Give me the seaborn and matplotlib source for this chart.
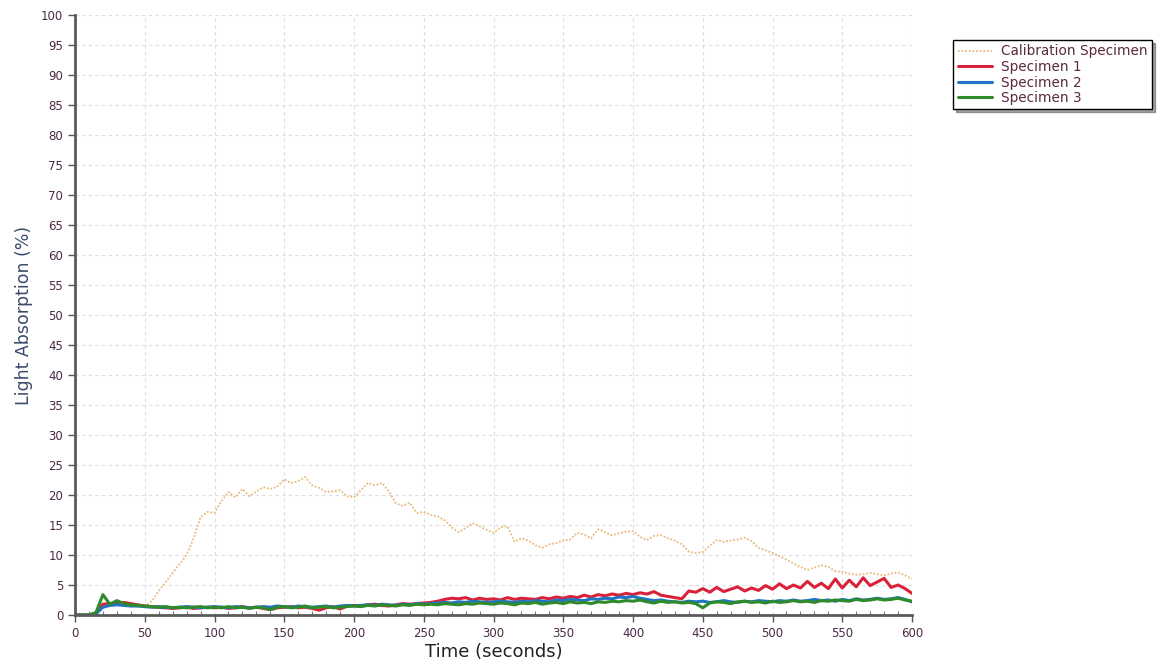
import numpy as np
import pandas as pd
import matplotlib
matplotlib.use("Agg")
import matplotlib.pyplot as plt
import seaborn as sns
from matplotlib.ticker import MultipleLocator

# time axis, one reading every 5 seconds
time_s = np.arange(0, 601, 5)

calibration = [
    0, 0, 0, 0.5, 1.5, 1.8, 1.7, 1.6, 1.5, 1.4,
    1.5, 2.3, 4.0, 5.5, 7.0, 8.5, 10.0, 12.8, 16.3, 17.2,
    17.0, 19.0, 20.5, 19.6, 21.0, 19.8, 20.6, 21.3, 21.0, 21.4,
    22.6, 22.0, 22.3, 23.0, 21.6, 21.2, 20.5, 20.6, 20.8, 19.8,
    19.6, 20.8, 22.0, 21.6, 22.0, 20.6, 18.6, 18.2, 18.7, 17.0,
    17.2, 16.7, 16.4, 15.8, 14.6, 13.8, 14.5, 15.3, 14.8, 14.2,
    13.7, 14.6, 14.8, 12.2, 12.8, 12.4, 11.6, 11.2, 11.8, 12.0,
    12.4, 12.6, 13.7, 13.4, 12.8, 14.3, 13.8, 13.3, 13.6, 13.9,
    14.0, 13.0, 12.5, 13.2, 13.3, 12.8, 12.4, 11.8, 10.6, 10.3,
    10.5, 11.5, 12.5, 12.2, 12.4, 12.6, 12.9, 12.3, 11.2, 10.8,
    10.3, 9.8, 9.2, 8.6, 8.0, 7.5, 7.9, 8.3, 8.0, 7.3,
    7.2, 6.9, 6.7, 6.8, 7.0, 6.8, 6.6, 6.9, 7.1, 6.6,
    6.0,
]

specimen_1 = [
    0, 0, 0, 0.3, 1.8, 1.9, 2.0, 2.1, 1.9, 1.7,
    1.5, 1.4, 1.3, 1.2, 1.1, 1.2, 1.3, 1.1, 1.2, 1.3,
    1.2, 1.3, 1.1, 1.2, 1.4, 1.2, 1.3, 1.1, 0.9, 1.2,
    1.3, 1.4, 1.2, 1.3, 1.1, 0.8, 1.2, 1.4, 1.0, 1.5,
    1.6, 1.5, 1.7, 1.8, 1.6, 1.5, 1.7, 1.9, 1.8, 1.9,
    2.0, 2.1, 2.3, 2.6, 2.8, 2.7, 2.9, 2.5, 2.8, 2.6,
    2.7, 2.5, 2.9, 2.6, 2.8, 2.7, 2.6, 2.9, 2.7, 3.0,
    2.8, 3.1, 2.9, 3.3, 3.0, 3.4, 3.2, 3.5, 3.3, 3.6,
    3.4, 3.7, 3.5, 3.9, 3.3, 3.1, 2.9, 2.7, 4.0, 3.8,
    4.4, 3.8, 4.6, 3.9, 4.3, 4.7, 4.0, 4.5, 4.1, 4.9,
    4.3, 5.2, 4.4, 5.0, 4.5, 5.6, 4.6, 5.3, 4.4, 6.0,
    4.5, 5.8, 4.7, 6.2, 4.9, 5.5, 6.1, 4.6, 5.0, 4.4,
    3.6,
]

specimen_2 = [
    0, 0, 0, 0.2, 1.3, 1.6, 1.7, 1.6, 1.5, 1.5,
    1.4, 1.3, 1.4, 1.3, 1.2, 1.3, 1.4, 1.3, 1.2, 1.3,
    1.4, 1.3, 1.2, 1.4, 1.3, 1.2, 1.3, 1.4, 1.3, 1.5,
    1.4, 1.3, 1.5, 1.4, 1.3, 1.4, 1.5, 1.3, 1.5, 1.6,
    1.5, 1.6, 1.7, 1.6, 1.8, 1.7, 1.6, 1.8, 1.7, 1.9,
    1.8, 1.9, 2.0, 2.1, 2.0, 2.2, 2.1, 2.3, 2.2, 2.1,
    2.2, 2.3, 2.2, 2.1, 2.3, 2.2, 2.4, 2.3, 2.2, 2.5,
    2.4, 2.6, 2.5, 2.4, 2.7, 2.6, 2.8, 2.7, 3.0, 2.9,
    3.1, 2.8, 2.6, 2.4, 2.5, 2.3, 2.2, 2.1, 2.3, 2.2,
    2.3, 2.1, 2.2, 2.4, 2.2, 2.1, 2.3, 2.2, 2.4, 2.3,
    2.2, 2.4, 2.3, 2.5, 2.3, 2.4, 2.6, 2.4, 2.5, 2.3,
    2.6, 2.4, 2.7, 2.5, 2.6, 2.8, 2.6, 2.7, 2.9, 2.6,
    2.2,
]

specimen_3 = [
    0, 0, 0, 0.4, 3.4, 1.8, 2.4, 1.9, 1.7, 1.6,
    1.5, 1.4, 1.3, 1.4, 1.2, 1.3, 1.2, 1.3, 1.4, 1.2,
    1.3, 1.2, 1.4, 1.2, 1.3, 1.1, 1.3, 1.2, 0.9, 1.3,
    1.4, 1.2, 1.3, 1.5, 1.2, 1.3, 1.4, 1.2, 1.3, 1.4,
    1.5, 1.4, 1.6, 1.5, 1.7, 1.6, 1.5, 1.7, 1.6, 1.8,
    1.7, 1.8, 1.7, 1.9, 1.8, 1.7, 1.9, 1.8, 2.0, 1.9,
    1.8, 2.0, 1.9, 1.7, 2.0, 1.9, 2.1, 1.8, 2.0, 2.1,
    1.9, 2.2, 2.0, 2.1, 1.9, 2.2, 2.1, 2.3, 2.2, 2.4,
    2.3, 2.5, 2.2, 2.0, 2.3, 2.1, 2.2, 2.0, 2.1, 1.9,
    1.2, 2.0, 2.2, 2.1, 1.9, 2.2, 2.3, 2.1, 2.2, 2.0,
    2.3, 2.1, 2.2, 2.4, 2.2, 2.3, 2.1, 2.4, 2.3, 2.5,
    2.4, 2.3, 2.6, 2.4, 2.5, 2.7, 2.5, 2.6, 2.8, 2.5,
    2.3,
]

series_names = ["Calibration Specimen", "Specimen 1", "Specimen 2", "Specimen 3"]
series_colors = ["#e9b97c", "#d9223a", "#1f74c4", "#2f8a2a"]

sns.set_style("white")
plt.rcParams["font.family"] = ["DejaVu Sans"]

fig = plt.figure(figsize=(11.63, 6.69), dpi=100)
ax = fig.add_axes([0.0645, 0.0807, 0.7197, 0.8969])

##draw the four series
all_vals = [calibration, specimen_1, specimen_2, specimen_3]
for name, vals, col in zip(series_names, all_vals, series_colors):
    if name == "Calibration Specimen":
        sns.lineplot(x=time_s, y=vals, ax=ax, color=col, lw=1.3, ls=(0, (1, 1)), label=name)
    else:
        sns.lineplot(x=time_s, y=vals, ax=ax, color=col, lw=2.2, label=name)

ax.set_xlim(0, 600)
ax.set_ylim(0, 100)
ax.xaxis.set_major_locator(MultipleLocator(50))
ax.xaxis.set_minor_locator(MultipleLocator(10))
ax.yaxis.set_major_locator(MultipleLocator(5))

ax.grid(True, which="major", color="#dedede", ls=(0, (3, 3)), lw=0.8)
for s in ["top", "right"]:
    ax.spines[s].set_visible(False)
for s in ["left", "bottom"]:
    ax.spines[s].set_color("#5a5a5a")
    ax.spines[s].set_linewidth(2.0)

tick_col = "#4b2a45"
ax.tick_params(axis="both", which="major", length=5, width=1, color="#555555",
               labelsize=8.5, labelcolor=tick_col, bottom=True, left=True)
ax.tick_params(axis="x", which="minor", direction="in", length=3, width=0.8, color="#777777",
               bottom=True)

ax.set_xlabel("Time (seconds)", fontsize=13, color="#222222", labelpad=2)
ax.set_ylabel("Light Absorption (%)", fontsize=12.5, color="#3b4c6b", labelpad=6)

leg = ax.legend(loc="upper left", bbox_to_anchor=(0.814, 0.95), bbox_transform=fig.transFigure,
                frameon=True, fancybox=False, shadow=True, fontsize=9.8,
                borderpad=0.3, labelspacing=0.12, handlelength=2.5, handletextpad=0.7)
leg.get_frame().set_edgecolor("#000000")
leg.get_frame().set_linewidth(1.0)
for txt in leg.get_texts():
    txt.set_color("#5a2a40")

fig.savefig("out.png", dpi=100)
